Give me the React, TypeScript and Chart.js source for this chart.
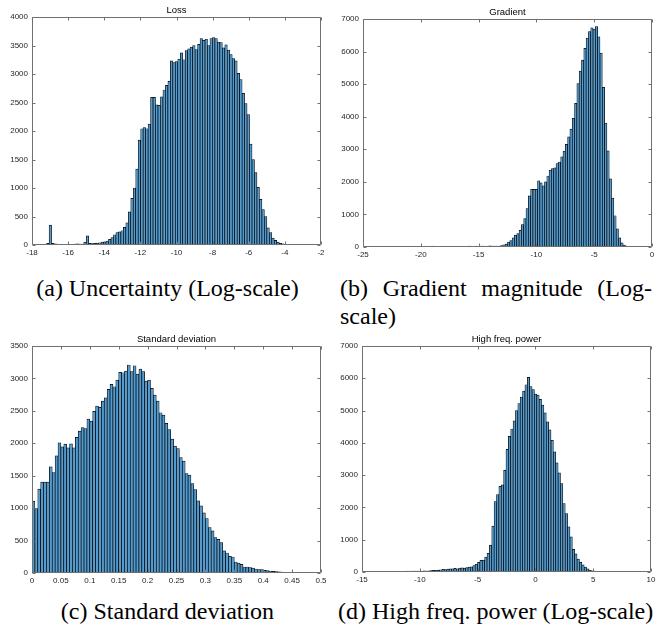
import React, { useEffect, useRef } from 'react';
import { Chart, registerables } from 'chart.js';

Chart.register(...registerables);

// ---------- (a) Loss ----------
const lossTitle = 'Loss';
const lossBinStart = -17.19;
const lossBinWidth = 0.137;
const lossCounts = [
  30, 350, 30, 20, 10, 8, 10, 12, 8, 10,
  10, 15, 20, 15, 15, 50, 160, 30, 25, 30,
  35, 40, 50, 55, 70, 100, 130, 180, 220, 230,
  250, 310, 390, 580, 820, 1000, 1330, 1840, 2040, 2060,
  2040, 2120, 2590, 2590, 2460, 2450, 2600, 2720, 2800, 2870,
  3230, 3200, 3220, 3260, 3370, 3250, 3410, 3440, 3470, 3500,
  3430, 3520, 3620, 3590, 3610, 3500, 3620, 3640, 3620, 3560,
  3550, 3460, 3510, 3420, 3340, 3270, 3230, 3010, 2900, 2660,
  2480, 2290, 1770, 1500, 1270, 1010, 800, 620, 500, 300,
  220, 120, 80, 50, 30, 20, 10, 5, 3, 2, 1,
];
const lossXTicks = [-18, -16, -14, -12, -10, -8, -6, -4, -2];
const lossYTicks = [0, 500, 1000, 1500, 2000, 2500, 3000, 3500, 4000];

// ---------- (b) Gradient ----------
const gradTitle = 'Gradient';
const gradBinStart = -21.3;
const gradBinWidth = 0.2;
const gradCounts = [
  10, 15, 5, 10, 20, 10, 5, 10, 15, 10,
  20, 25, 15, 10, 15, 20, 10, 15, 20, 15,
  10, 15, 20, 15, 10, 15, 20, 25, 15, 20,
  25, 20, 30, 25, 20, 30, 35, 30, 30, 30,
  30, 40, 70, 90, 150, 200, 280, 360, 410, 510,
  690, 870, 1180, 1570, 1770, 1770, 1770, 2030, 1970, 1880,
  2000, 2180, 2360, 2410, 2430, 2560, 2610, 2770, 2940, 3150,
  3380, 3620, 3950, 4410, 5020, 5400, 5740, 6100, 6410, 6610,
  6730, 6690, 6770, 6450, 5950, 4900, 3800, 2950, 2090, 1500,
  960, 560, 280, 130, 60, 30, 15, 8,
];
const gradXTicks = [-25, -20, -15, -10, -5, 0];
const gradYTicks = [0, 1000, 2000, 3000, 4000, 5000, 6000, 7000];

// ---------- (c) Standard deviation ----------
const stdTitle = 'Standard deviation';
const stdBinStart = 0;
const stdBinWidth = 0.005;
const stdCounts = [
  1107, 993, 1292, 1400, 1400, 1400, 1637, 1549, 1807, 2007,
  1946, 1987, 1930, 1992, 1930, 2090, 2187, 2244, 2228, 2373,
  2342, 2491, 2573, 2553, 2651, 2702, 2831, 2908, 2872, 2975,
  3093, 3088, 3114, 3207, 3104, 3196, 3068, 3145, 3104, 2960,
  2975, 2846, 2743, 2651, 2471, 2434, 2306, 2213, 2064, 1956,
  1920, 1781, 1724, 1534, 1508, 1379, 1287, 1112, 1035, 927,
  839, 700, 649, 546, 520, 468, 340, 309, 257, 247,
  170, 154, 134, 93, 93, 82, 77, 62, 51, 51,
  41, 36, 31, 26, 20, 18, 15, 10, 8, 5, 4, 3,
];
const stdXTicks = [0, 0.05, 0.1, 0.15, 0.2, 0.25, 0.3, 0.35, 0.4, 0.45, 0.5];
const stdYTicks = [0, 500, 1000, 1500, 2000, 2500, 3000, 3500];

// ---------- (d) High freq. power ----------
const hfTitle = 'High freq. power';
const hfBinStart = -13.0;
const hfBinWidth = 0.205;
const hfCounts = [
  5, 8, 5, 10, 12, 10, 15, 20, 18, 25,
  20, 30, 25, 30, 28, 30, 35, 30, 40, 45,
  50, 55, 60, 70, 80, 75, 90, 100, 95, 110,
  100, 120, 130, 120, 140, 150, 160, 200, 240, 300,
  360, 370, 460, 580, 830, 1420, 2180, 2400, 2650, 2700,
  3150, 3800, 4200, 4430, 4680, 5000, 5220, 5420, 5600, 5800,
  6030, 5740, 5650, 5510, 5480, 5350, 5170, 4930, 4650, 4400,
  4080, 3720, 3380, 3070, 2740, 2120, 1810, 1400, 1090, 700,
  560, 400, 300, 220, 150, 100, 60, 40, 25, 15,
  10, 6, 4, 3, 2, 2, 1, 1, 1, 1,
];
const hfXTicks = [-15, -10, -5, 0, 5, 10];
const hfYTicks = [0, 1000, 2000, 3000, 4000, 5000, 6000, 7000];

// ---------- captions ----------
const captionA = '(a) Uncertainty (Log-scale)';
const captionB = '(b) Gradient magnitude (Log-scale)';
const captionC = '(c) Standard deviation';
const captionD = '(d) High freq. power (Log-scale)';

const FILL = 'rgb(84,156,208)';
const EDGE = '#000000';
const AXIS = '#707070';
const TEXT = '#262626';
const Y_W = 30;
const X_H = 14;

type Panel = {
  title: string;
  binStart: number;
  binWidth: number;
  counts: number[];
  xTicks: number[];
  yTicks: number[];
  left: number;
  top: number;
  w: number;
  area: { left: number; right: number; top: number; bottom: number };
};

const fmt = (v: number) => String(+v.toFixed(3));

const boxPlugin = {
  id: 'matlabBox',
  afterDraw(chart: any, _args: any, opts: any) {
    const { ctx, chartArea: a, scales } = chart;
    const L = Math.round(a.left) + 0.5;
    const R = Math.round(a.right) - 0.5;
    const T = Math.round(a.top) + 0.5;
    const B = Math.round(a.bottom) - 0.5;
    ctx.save();
    ctx.strokeStyle = AXIS;
    ctx.lineWidth = 1;
    ctx.beginPath();
    ctx.rect(L, T, R - L, B - T);
    const tl = 3;
    scales.x.ticks.forEach((t: any) => {
      const px = Math.round(scales.x.getPixelForValue(t.value)) + 0.5;
      ctx.moveTo(px, B);
      ctx.lineTo(px, B - tl);
      ctx.moveTo(px, T);
      ctx.lineTo(px, T + tl);
    });
    scales.y.ticks.forEach((t: any) => {
      const py = Math.round(scales.y.getPixelForValue(t.value)) + 0.5;
      ctx.moveTo(L, py);
      ctx.lineTo(L + tl, py);
      ctx.moveTo(R, py);
      ctx.lineTo(R - tl, py);
    });
    ctx.stroke();
    ctx.fillStyle = '#000';
    ctx.font = '9.5px "Liberation Sans", Arial, sans-serif';
    ctx.textAlign = 'center';
    ctx.textBaseline = 'middle';
    ctx.fillText(opts.title, (a.left + a.right) / 2, a.top - 7);
    ctx.restore();
  },
};

function Hist({ p }: { p: Panel }) {
  const ref = useRef<HTMLCanvasElement | null>(null);
  const h = p.area.bottom + X_H;
  useEffect(() => {
    if (!ref.current) return;
    const pts = p.counts.map((c, i) => ({ x: p.binStart + p.binWidth * (i + 0.5), y: c }));
    const tickFont = { family: '"Liberation Sans", Arial, sans-serif', size: 8 };
    const chart = new Chart(ref.current, {
      type: 'bar',
      data: {
        datasets: [
          {
            data: pts as any,
            backgroundColor: FILL,
            borderColor: EDGE,
            borderWidth: 0.7,
            borderSkipped: 'bottom',
            barPercentage: 1,
            categoryPercentage: 1,
          } as any,
        ],
      },
      options: {
        animation: false,
        responsive: false,
        devicePixelRatio: 1,
        layout: {
          padding: { left: p.area.left - Y_W, right: p.w - p.area.right, top: p.area.top, bottom: 0 },
        },
        plugins: {
          legend: { display: false },
          tooltip: { enabled: false },
          matlabBox: { title: p.title },
        } as any,
        scales: {
          x: {
            type: 'linear',
            min: p.xTicks[0],
            max: p.xTicks[p.xTicks.length - 1],
            offset: false,
            grid: { display: false, drawTicks: false },
            border: { display: false },
            ticks: { font: tickFont, color: TEXT, padding: 3, autoSkip: false, maxRotation: 0, callback: (v: any) => fmt(Number(v)) },
            afterBuildTicks: (s: any) => { s.ticks = p.xTicks.map((v) => ({ value: v })); },
            afterFit: (s: any) => { s.height = X_H; },
          },
          y: {
            type: 'linear',
            min: p.yTicks[0],
            max: p.yTicks[p.yTicks.length - 1],
            grid: { display: false, drawTicks: false },
            border: { display: false },
            ticks: { font: tickFont, color: TEXT, padding: 4, autoSkip: false, callback: (v: any) => fmt(Number(v)) },
            afterBuildTicks: (s: any) => { s.ticks = p.yTicks.map((v) => ({ value: v })); },
            afterFit: (s: any) => { s.width = Y_W; },
          },
        } as any,
      },
      plugins: [boxPlugin],
    } as any);
    return () => chart.destroy();
  }, []);
  return (
    <canvas
      ref={ref}
      width={p.w}
      height={h}
      style={{ position: 'absolute', left: p.left, top: p.top, width: p.w, height: h }}
    />
  );
}

const panels: Panel[] = [
  { title: lossTitle, binStart: lossBinStart, binWidth: lossBinWidth, counts: lossCounts, xTicks: lossXTicks, yTicks: lossYTicks,
    left: 0, top: 0, w: 330, area: { left: 32, right: 321, top: 17, bottom: 245 } },
  { title: gradTitle, binStart: gradBinStart, binWidth: gradBinWidth, counts: gradCounts, xTicks: gradXTicks, yTicks: gradYTicks,
    left: 330, top: 0, w: 330, area: { left: 33, right: 322, top: 19, bottom: 247 } },
  { title: stdTitle, binStart: stdBinStart, binWidth: stdBinWidth, counts: stdCounts, xTicks: stdXTicks, yTicks: stdYTicks,
    left: 0, top: 330, w: 330, area: { left: 32, right: 321, top: 16, bottom: 243 } },
  { title: hfTitle, binStart: hfBinStart, binWidth: hfBinWidth, counts: hfCounts, xTicks: hfXTicks, yTicks: hfYTicks,
    left: 330, top: 330, w: 330, area: { left: 32, right: 321, top: 16, bottom: 242 } },
];

const capStyle: React.CSSProperties = {
  position: 'absolute',
  fontFamily: '"Liberation Serif", "Times New Roman", serif',
  fontSize: 24,
  lineHeight: '28px',
  color: '#000',
  margin: 0,
};

export default function App() {
  return (
    <div style={{ position: 'absolute', left: 0, top: 0, width: 660, height: 630, background: '#fff' }}>
      {panels.map((p, i) => (
        <Hist key={i} p={p} />
      ))}
      <div style={{ ...capStyle, left: 0, top: 274, width: 335, textAlign: 'center' }}>{captionA}</div>
      <div style={{ ...capStyle, left: 340, top: 274, width: 312, textAlign: 'justify' }}>{captionB}</div>
      <div style={{ ...capStyle, left: 0, top: 597, width: 335, textAlign: 'center' }}>{captionC}</div>
      <div style={{ ...capStyle, left: 338, top: 597, whiteSpace: 'nowrap' }}>{captionD}</div>
    </div>
  );
}
